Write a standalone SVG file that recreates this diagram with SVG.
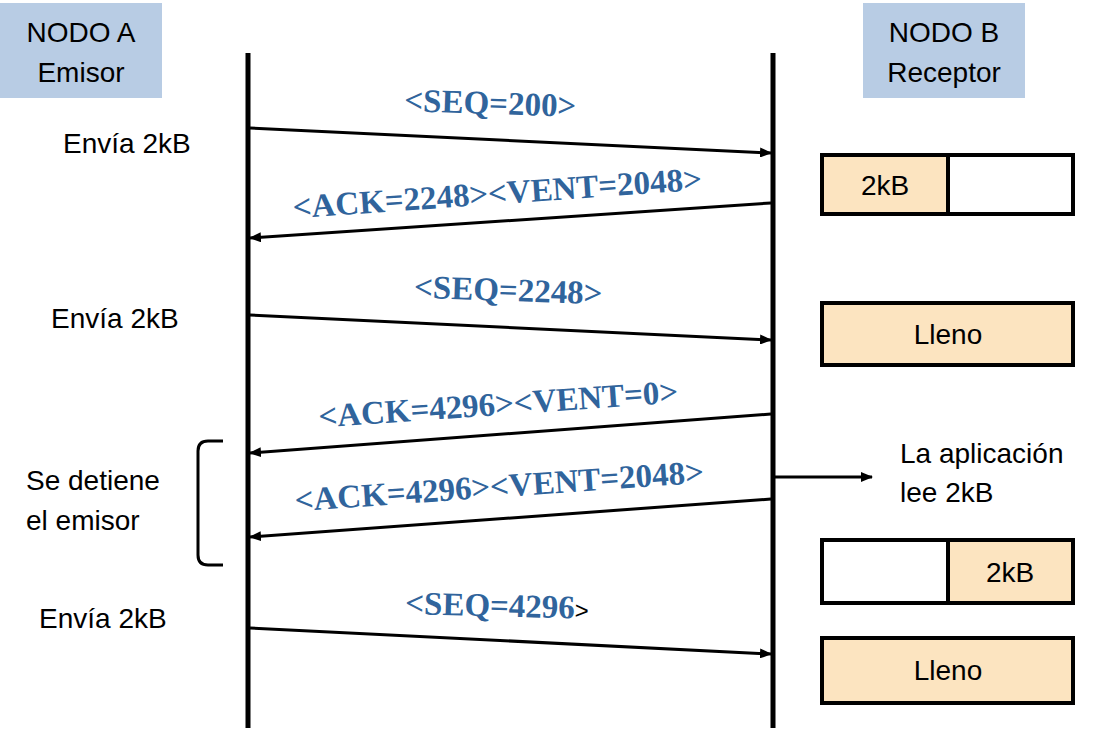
<svg xmlns="http://www.w3.org/2000/svg" width="1093" height="731" viewBox="0 0 1093 731">
<defs>
<marker id="ah" viewBox="0 0 12 10" refX="11" refY="5" markerWidth="12" markerHeight="10" markerUnits="userSpaceOnUse" orient="auto">
<path d="M0,0 L12,5 L0,10 Z" fill="#000"/>
</marker>
<style>
.t{font-family:"Liberation Sans",Arial,sans-serif;font-size:28px;fill:#000}
.m{font-family:"Liberation Serif","Times New Roman",serif;font-size:33px;font-weight:bold;fill:#30649c}
.hdr{fill:#b8cce4}
.buf{stroke:#000;stroke-width:4}
.full{fill:#fce4c0}
.empty{fill:#fff}
.life{stroke:#000;stroke-width:5}
.msg{stroke:#000;stroke-width:3;fill:none;marker-end:url(#ah)}
</style>
</defs>
<rect width="1093" height="731" fill="#fff"/>
<g id="nodoA">
<rect class="hdr" x="0" y="3" width="162" height="95"/>
<text class="t" x="81" y="42" text-anchor="middle">NODO A</text>
<text class="t" x="81" y="82" text-anchor="middle">Emisor</text>
</g>
<g id="nodoB">
<rect class="hdr" x="863" y="3" width="162" height="95"/>
<text class="t" x="944" y="42" text-anchor="middle">NODO B</text>
<text class="t" x="944" y="82" text-anchor="middle">Receptor</text>
</g>
<g id="lifelines">
<line class="life" x1="248" y1="53" x2="248" y2="728"/>
<line class="life" x1="773" y1="53" x2="773" y2="728"/>
</g>
<g id="connectors">
<line class="msg" x1="250" y1="128" x2="771" y2="153"/>
<line class="msg" x1="771" y1="203" x2="250" y2="238"/>
<line class="msg" x1="250" y1="315" x2="771" y2="340"/>
<line class="msg" x1="771" y1="414" x2="250" y2="453"/>
<line class="msg" x1="771" y1="499" x2="250" y2="537"/>
<line class="msg" x1="250" y1="628" x2="771" y2="654"/>
<line class="msg" x1="775" y1="477" x2="872" y2="477"/>
</g>
<g id="labels">
<text class="m" x="490" y="114" text-anchor="middle" transform="rotate(2 490 114)">&lt;SEQ=200&gt;</text>
<text class="m" x="498" y="204" text-anchor="middle" transform="rotate(-4 498 204)">&lt;ACK=2248&gt;&lt;VENT=2048&gt;</text>
<text class="m" x="508" y="301" text-anchor="middle" transform="rotate(2 508 301)">&lt;SEQ=2248&gt;</text>
<text class="m" x="499" y="415" text-anchor="middle" transform="rotate(-4 499 415)">&lt;ACK=4296&gt;&lt;VENT=0&gt;</text>
<text class="m" x="500" y="497" text-anchor="middle" transform="rotate(-4 500 497)">&lt;ACK=4296&gt;&lt;VENT=2048&gt;</text>
<text class="m" x="405" y="614" transform="rotate(1.5 405 614)">&lt;SEQ=4296<tspan style="font-family:'Liberation Sans',Arial,sans-serif;font-weight:normal;font-size:24px;fill:#000">&gt;</tspan></text>
</g>
<g id="sender-notes">
<text class="t" x="63" y="153">Envía 2kB</text>
<text class="t" x="51" y="328">Envía 2kB</text>
<text class="t" x="26" y="490">Se detiene</text>
<text class="t" x="26" y="530">el emisor</text>
<text class="t" x="39" y="628">Envía 2kB</text>
<path d="M223,441 L208,441 Q198,441 198,451 L198,555 Q198,565 208,565 L223,565" fill="none" stroke="#000" stroke-width="3"/>
</g>
<g id="buffer1">
<rect class="buf empty" x="822" y="155" width="251" height="59"/>
<rect class="buf full" x="822" y="155" width="126" height="59"/>
<text class="t" x="885" y="195" text-anchor="middle">2kB</text>
</g>
<g id="buffer2">
<rect class="buf full" x="822" y="303" width="251" height="62"/>
<text class="t" x="948" y="344" text-anchor="middle">Lleno</text>
</g>
<g id="app-note">
<text class="t" x="900" y="463">La aplicación</text>
<text class="t" x="900" y="502">lee 2kB</text>
</g>
<g id="buffer3">
<rect class="buf empty" x="822" y="540" width="251" height="63"/>
<rect class="buf full" x="948" y="540" width="125" height="63"/>
<text class="t" x="1010" y="582" text-anchor="middle">2kB</text>
</g>
<g id="buffer4">
<rect class="buf full" x="822" y="638" width="251" height="65"/>
<text class="t" x="948" y="680" text-anchor="middle">Lleno</text>
</g>
</svg>
